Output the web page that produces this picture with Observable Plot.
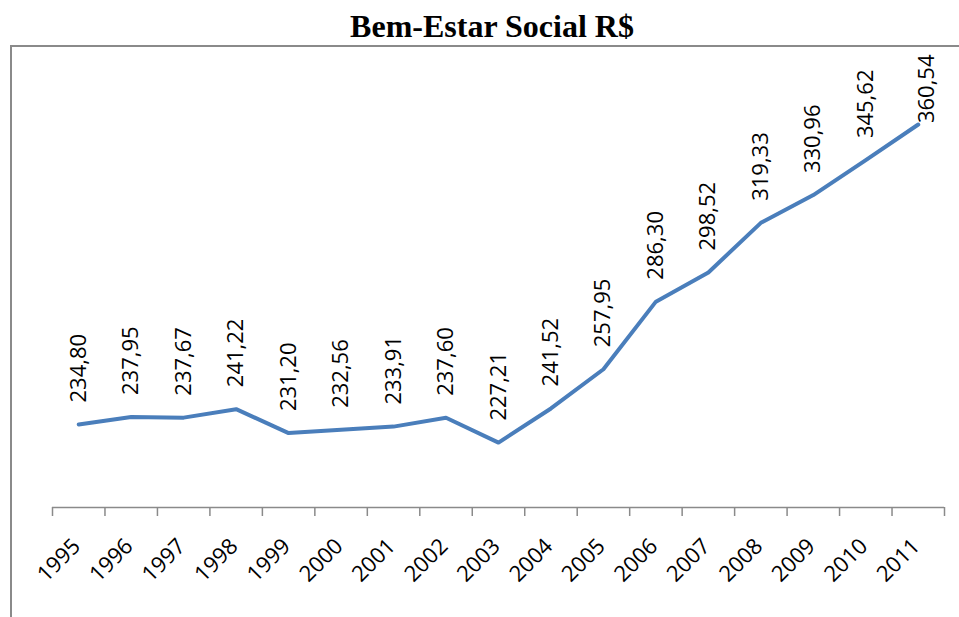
<!DOCTYPE html>
<html>
<head>
<meta charset="utf-8">
<script src="https://cdn.jsdelivr.net/npm/d3@7"></script>
<script src="https://cdn.jsdelivr.net/npm/@observablehq/plot@0.6"></script>
<style>
  html, body { margin: 0; padding: 0; background: #fff; }
  #wrap { position: relative; width: 959px; height: 617px; overflow: hidden; background: #fff; }
  #title { position: absolute; left: 0; top: 10px; width: 984px; text-align: center;
           font: bold 32px "Liberation Serif", "Times New Roman", serif; line-height: 32px; color: #000; }
  #frame { position: absolute; left: 10px; top: 45px; width: 980px; height: 600px;
           border-top: 2px solid #8a8a8a; border-left: 2px solid #8a8a8a; }
  #chart { position: absolute; left: 0; top: 46px; }
</style>
</head>
<body>
<div id="wrap">
  <div id="title">Bem-Estar Social R$</div>
  <div id="frame"></div>
  <div id="chart"></div>
</div>
<script>
const years = [1995, 1996, 1997, 1998, 1999, 2000, 2001, 2002, 2003, 2004, 2005, 2006, 2007, 2008, 2009, 2010, 2011];
const values = [234.80, 237.95, 237.67, 241.22, 231.20, 232.56, 233.91, 237.60, 227.21, 241.52, 257.95, 286.30, 298.52, 319.33, 330.96, 345.62, 360.54];

const data = years.map((year, i) => ({year, value: values[i], label: values[i].toFixed(2).replace(".", ",")}));
const boundaries = years.map(y => y - 0.5).concat([years[years.length - 1] + 0.5]);
const lastPoint = data.slice(-1);
const otherPoints = data.slice(0, -1);

const chart = Plot.plot({
  width: 959,
  height: 571,
  marginLeft: 52,
  marginRight: 15,
  marginTop: 0,
  marginBottom: 110,
  style: {fontFamily: "'Open Sans', sans-serif", background: "transparent", color: "#000"},
  x: {domain: [years[0] - 0.5, years[years.length - 1] + 0.5], axis: null},
  y: {domain: [200, 393.25], axis: null},
  marks: [
    Plot.ruleY([200], {stroke: "#8a8a8a", strokeWidth: 1.5}),
    Plot.axisX({ticks: boundaries, tickFormat: () => "", label: null, tickSize: 9, stroke: "#8a8a8a", strokeWidth: 1.5}),
    Plot.text(years, {x: d => d, text: d => String(d), frameAnchor: "bottom", rotate: -45, textAnchor: "end", dx: 3, dy: 40, fontSize: 22, fill: "#000"}),
    Plot.line(data, {x: "year", y: "value", stroke: "#4a7ebb", strokeWidth: 4, strokeLinejoin: "round", strokeLinecap: "round"}),
    Plot.text(otherPoints, {x: "year", y: "value", text: "label", rotate: -90, textAnchor: "start", dy: -22, fontSize: 22, fill: "#000"}),
    Plot.text(lastPoint, {x: "year", text: "label", frameAnchor: "top", rotate: -90, textAnchor: "end", dy: 8, fontSize: 22, fill: "#000"})
  ]
});
document.getElementById("chart").appendChild(chart);
</script>
</body>
</html>
